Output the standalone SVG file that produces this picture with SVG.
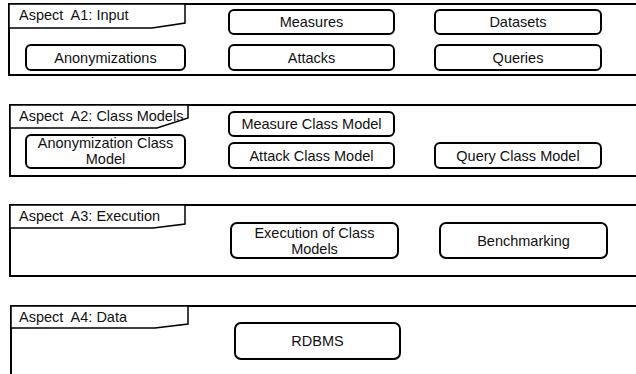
<svg xmlns="http://www.w3.org/2000/svg" width="636" height="374" viewBox="0 0 636 374">
<style>
.frame{fill:none;stroke:#000;stroke-width:2}
.tab{fill:#fff;stroke:#000;stroke-width:1.5}
.box{fill:#fff;stroke:#000;stroke-width:2}
text{font-family:"Liberation Sans",Arial,sans-serif;font-size:14.5px;fill:#111}
.t{white-space:pre}
.c{text-anchor:middle}
</style>
<rect width="636" height="374" fill="#fff"/>
<g id="A1">
<rect class="frame" x="9" y="4" width="640" height="71"/>
<path class="tab" d="M9,4 H185 V23 L152,28 H9 Z"/>
<text class="t" x="19" y="20">Aspect  A1: Input</text>
</g>
<g id="measures"><rect class="box" x="229" y="10" width="165" height="24" rx="5"/><text class="c" x="311.5" y="27">Measures</text></g>
<g id="datasets"><rect class="box" x="435" y="10" width="166" height="24" rx="5"/><text class="c" x="518" y="27">Datasets</text></g>
<g id="anonymizations"><rect class="box" x="26" y="45" width="159" height="25" rx="5"/><text class="c" x="105.5" y="63">Anonymizations</text></g>
<g id="attacks"><rect class="box" x="229" y="45" width="165" height="25" rx="5"/><text class="c" x="311.5" y="63">Attacks</text></g>
<g id="queries"><rect class="box" x="435" y="45" width="166" height="25" rx="5"/><text class="c" x="518" y="63">Queries</text></g>

<g id="A2">
<rect class="frame" x="10" y="105" width="640" height="71"/>
<path class="tab" d="M10,105 H188 V118 L157,128 H10 Z"/>
<text class="t" x="19" y="121">Aspect  A2: Class Models</text>
</g>
<g id="measureClassModel"><rect class="box" x="229" y="112" width="165" height="24" rx="5"/><text class="c" x="311.5" y="129">Measure Class Model</text></g>
<g id="anonymizationClassModel"><rect class="box" x="26" y="135" width="159" height="33" rx="5"/><text class="c" x="105.5" y="148">Anonymization Class</text><text class="c" x="105.5" y="164">Model</text></g>
<g id="attackClassModel"><rect class="box" x="229" y="143" width="165" height="25" rx="5"/><text class="c" x="311.5" y="161">Attack Class Model</text></g>
<g id="queryClassModel"><rect class="box" x="435" y="143" width="166" height="25" rx="5"/><text class="c" x="518" y="161">Query Class Model</text></g>

<g id="A3">
<rect class="frame" x="10" y="205" width="640" height="71"/>
<path class="tab" d="M10,205 H185 V224 L153,228 H10 Z"/>
<text class="t" x="19" y="221">Aspect  A3: Execution</text>
</g>
<g id="execution"><rect class="box" x="231" y="223" width="167" height="35" rx="6"/><text class="c" x="314.5" y="238">Execution of Class</text><text class="c" x="314.5" y="254">Models</text></g>
<g id="benchmarking"><rect class="box" x="440" y="223" width="167" height="35" rx="6"/><text class="c" x="523.5" y="246">Benchmarking</text></g>

<g id="A4">
<path class="frame" d="M11,380 V306 H640"/>
<path class="tab" d="M11,306 H188 V324 L155,328 H11 Z"/>
<text class="t" x="19" y="322">Aspect  A4: Data</text>
</g>
<g id="rdbms"><rect class="box" x="235" y="323" width="165" height="36" rx="6"/><text class="c" x="317.5" y="346">RDBMS</text></g>
</svg>
